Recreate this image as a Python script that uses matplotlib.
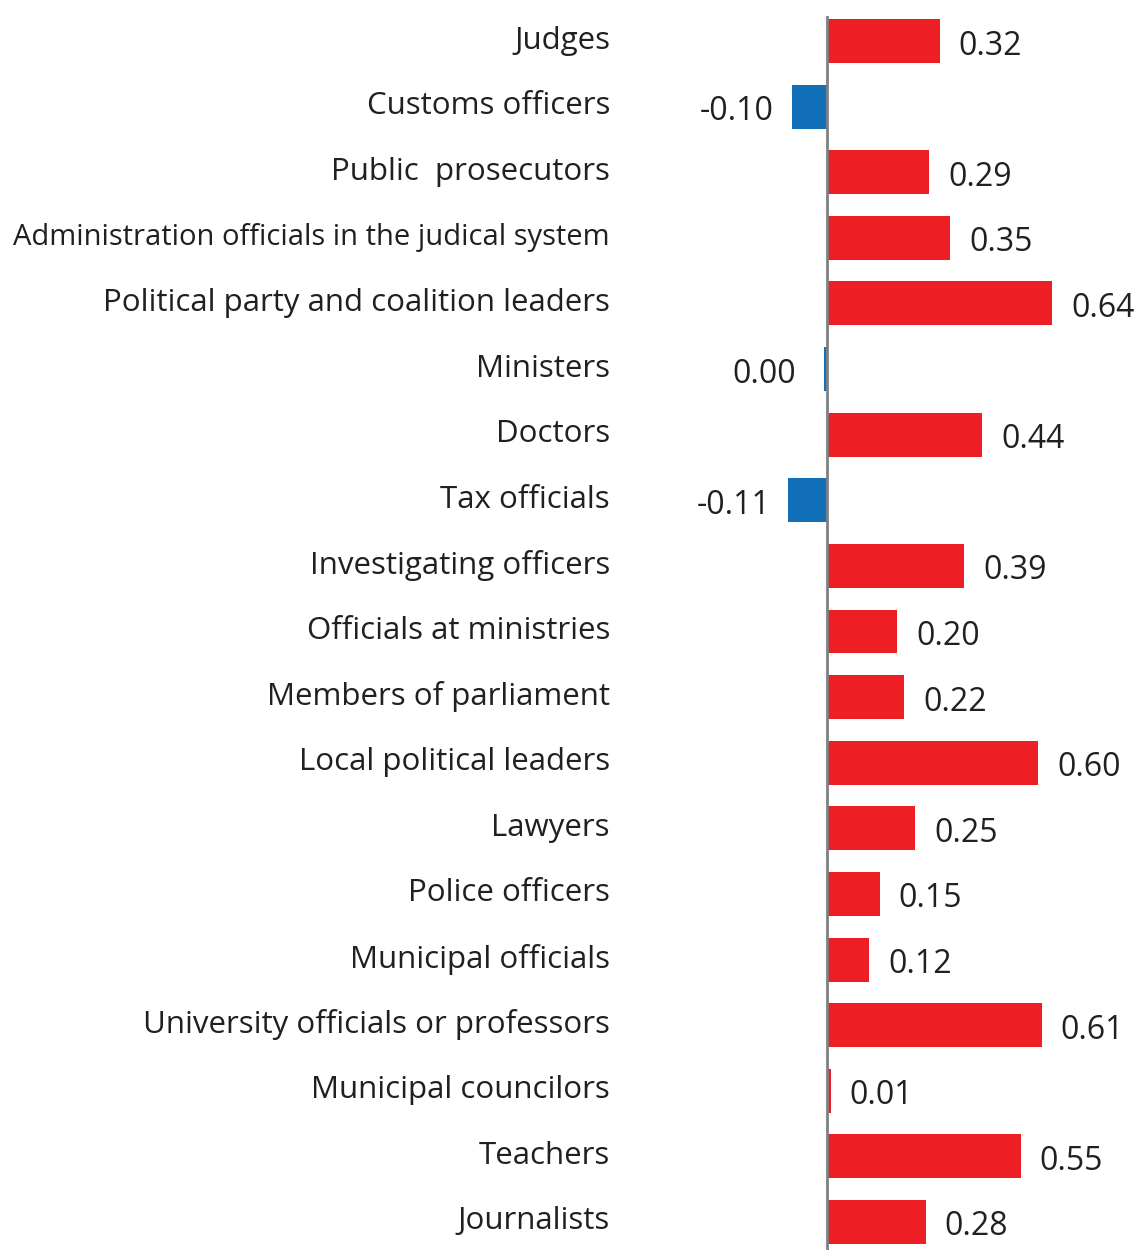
import matplotlib.pyplot as plt
import numpy as np

categories = ['Judges', 'Customs officers', 'Public  prosecutors',
              'Administration officials in the judical system',
              'Political party and coalition leaders', 'Ministers', 'Doctors',
              'Tax officials', 'Investigating officers', 'Officials at ministries',
              'Members of parliament', 'Local political leaders', 'Lawyers',
              'Police officers', 'Municipal officials',
              'University officials or professors', 'Municipal councilors',
              'Teachers', 'Journalists']
values = [0.32, -0.10, 0.29, 0.35, 0.64, 0.00, 0.44, -0.11, 0.39, 0.20,
          0.22, 0.60, 0.25, 0.15, 0.12, 0.61, 0.01, 0.55, 0.28]
# sign used for colour (Ministers is shown as a tiny negative bar)
negative = [False, True, False, False, False, True, False, True, False, False,
            False, False, False, False, False, False, False, False, False]

red = '#ed1f24'
blue = '#1270b8'
txt = '#231f20'
plt.rcParams['font.family'] = ['Open Sans', 'DejaVu Sans']

W, H = 1134, 1250
fig = plt.figure(figsize=(W / 100, H / 100), dpi=100)
ax = fig.add_axes([0, 0, 1, 1])

scale = 352.0  # px per unit
zero_px = 827
ax.set_xlim(-zero_px / scale, (W - zero_px) / scale)
step = 65.6
ax.set_ylim(18 + (H - 1222) / step, -41 / step)

y = np.arange(len(categories))
bar_vals = [(-0.009 if (n and v == 0) else v) for v, n in zip(values, negative)]
colors = [blue if n else red for n in negative]
ax.barh(y, bar_vals, height=0.67, color=colors, zorder=2)
ax.axvline(0, ymax=1 - 17 / H, color='#808080', lw=2, zorder=3)

for yi, v, bv, n in zip(y, values, bar_vals, negative):
    if n:
        ax.annotate(f'{v:.2f}', (bv, yi), xytext=(-18 if v else -28, -1),
                    textcoords='offset pixels', ha='right', va='center_baseline',
                    fontsize=23, color=txt)
    else:
        ax.annotate(f'{v:.2f}', (v, yi), xytext=(19, -1),
                    textcoords='offset pixels', ha='left', va='center_baseline',
                    fontsize=23, color=txt)

# category labels, right-aligned at x ~ 610 px
for yi, cat in zip(y, categories):
    fs = 21 if len(cat) > 40 else 22.5
    ax.annotate(cat, (0, yi), xytext=(610 - zero_px, 4),
                textcoords='offset pixels', ha='right', va='center_baseline',
                fontsize=fs, color=txt)

ax.axis('off')

fig.savefig('out.png', dpi=100)
